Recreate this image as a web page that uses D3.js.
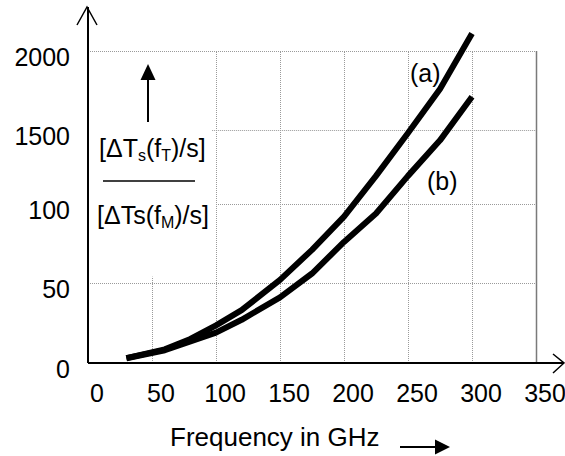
<!DOCTYPE html>
<html>
<head>
<meta charset="utf-8">
<script src="https://cdn.jsdelivr.net/npm/d3@7"></script>
<style>
  html, body { margin: 0; padding: 0; background: #fff; }
  svg text { font-family: "Liberation Sans", Arial, sans-serif; fill: #000; }
</style>
</head>
<body>
<svg id="chart" width="565" height="456"></svg>
<script>
// ---- data ----
const freq = [30, 60, 80, 100, 120, 150, 175, 200, 225, 250, 275, 300];
const seriesA = [3, 8.5, 15, 23.5, 33, 52, 71, 92, 119, 148, 176, 211];
const seriesB = [3, 8, 13.5, 19, 27, 41, 56, 76, 94, 119, 143, 171];
const xTicks = [0, 50, 100, 150, 200, 250, 300, 350];
const xTickLabels = ["0", "50", "100", "150", "200", "250", "300", "350"];
const yTicks = [0, 50, 100, 150, 200];
const yTickLabels = ["0", "50", "100", "1500", "2000"];
// grid segments (value, extent start/end in data units)
const gridH = [[50, 0, 350], [100, 100, 350], [150, 97, 350], [200, 0, 350]];
const gridV = [[50, 0, 54], [100, 0, 200], [150, 0, 200], [200, 0, 200], [250, 0, 200], [300, 0, 200]];
const seriesLabels = ["(a)", "(b)"];

// ---- scales ----
const svg = d3.select("#chart");
const x = d3.scaleLinear().domain([0, 350]).range([88, 536]);
const y = d3.scaleLinear().domain([0, 50, 100, 150, 200]).range([363, 283, 204, 130, 51]);

// grid
const grid = svg.append("g").attr("stroke", "#9a9a9a").attr("stroke-width", 1).attr("stroke-dasharray", "1,1");
grid.selectAll("line.h").data(gridH).enter().append("line")
  .attr("x1", d => x(d[1])).attr("x2", d => x(d[2]))
  .attr("y1", d => y(d[0]) + 0.5).attr("y2", d => y(d[0]) + 0.5);
grid.selectAll("line.v").data(gridV).enter().append("line")
  .attr("x1", d => x(d[0]) + 0.5).attr("x2", d => x(d[0]) + 0.5)
  .attr("y1", d => y(d[1])).attr("y2", d => y(d[2]));
// right border
svg.append("line").attr("x1", x(350) + 0.5).attr("x2", x(350) + 0.5)
  .attr("y1", y(0)).attr("y2", y(200)).attr("stroke", "#7a7a7a").attr("stroke-width", 1.5);

// axes
const ax = svg.append("g").attr("stroke", "#000").attr("stroke-width", 2).attr("fill", "none");
ax.append("line").attr("x1", x(0)).attr("x2", 564).attr("y1", y(0)).attr("y2", y(0));
ax.append("line").attr("x1", x(0)).attr("x2", x(0)).attr("y1", y(0)).attr("y2", 7);
ax.append("path").attr("d", `M${x(0) - 11},25 L${x(0) - 1},7 L${x(0) + 9},25`).attr("stroke-width", 1.5);
ax.append("path").attr("d", `M553,${y(0) - 9} L564,${y(0)} L553,${y(0) + 10}`).attr("stroke-width", 1.5);

// tick labels
svg.selectAll("text.xt").data(xTicks).enter().append("text")
  .attr("x", d => x(d) + 9).attr("y", y(0) + 39)
  .attr("text-anchor", "middle").attr("font-size", 25)
  .text((d, i) => xTickLabels[i]);
svg.selectAll("text.yt").data(yTicks).enter().append("text")
  .attr("x", 70).attr("y", d => y(d) + 15)
  .attr("text-anchor", "end").attr("font-size", 25)
  .text((d, i) => yTickLabels[i]);

// curves
const line = d3.line().x(d => x(d[0])).y(d => y(d[1]));
[seriesA, seriesB].forEach(s => {
  svg.append("path").datum(freq.map((f, i) => [f, s[i]]))
    .attr("d", line).attr("fill", "none").attr("stroke", "#000")
    .attr("stroke-width", 6).attr("stroke-linejoin", "round").attr("stroke-linecap", "butt");
});

// series labels
svg.append("text").attr("x", 410).attr("y", 82).attr("font-size", 25).text(seriesLabels[0]);
svg.append("text").attr("x", 427).attr("y", 190).attr("font-size", 25).text(seriesLabels[1]);

// y-axis annotation: arrow + fraction
svg.append("line").attr("x1", 148).attr("x2", 148).attr("y1", 122).attr("y2", 78)
  .attr("stroke", "#000").attr("stroke-width", 2);
svg.append("path").attr("d", "M140.5,80 L155.5,80 L148,64 Z").attr("fill", "#000");

const num = svg.append("text").attr("x", 99).attr("y", 157).attr("font-size", 25);
num.append("tspan").text("[ΔT");
num.append("tspan").attr("font-size", 16).attr("dy", 4).text("s");
num.append("tspan").attr("dy", -4).text("(f");
num.append("tspan").attr("font-size", 16).attr("dy", 4).text("T");
num.append("tspan").attr("dy", -4).text(")/s]");

svg.append("line").attr("x1", 103).attr("x2", 195).attr("y1", 181).attr("y2", 181)
  .attr("stroke", "#000").attr("stroke-width", 1.6);

const den = svg.append("text").attr("x", 97).attr("y", 224).attr("font-size", 25);
den.append("tspan").text("[ΔTs(f");
den.append("tspan").attr("font-size", 16).attr("dy", 4).text("M");
den.append("tspan").attr("dy", -4).text(")/s]");

// x-axis title + arrow
svg.append("text").attr("x", 170).attr("y", 446).attr("font-size", 26).text("Frequency in GHz");
svg.append("line").attr("x1", 400).attr("x2", 437).attr("y1", 447).attr("y2", 447)
  .attr("stroke", "#000").attr("stroke-width", 2);
svg.append("path").attr("d", "M435,439.5 L450,447 L435,454.5 Z").attr("fill", "#000");
</script>
</body>
</html>
